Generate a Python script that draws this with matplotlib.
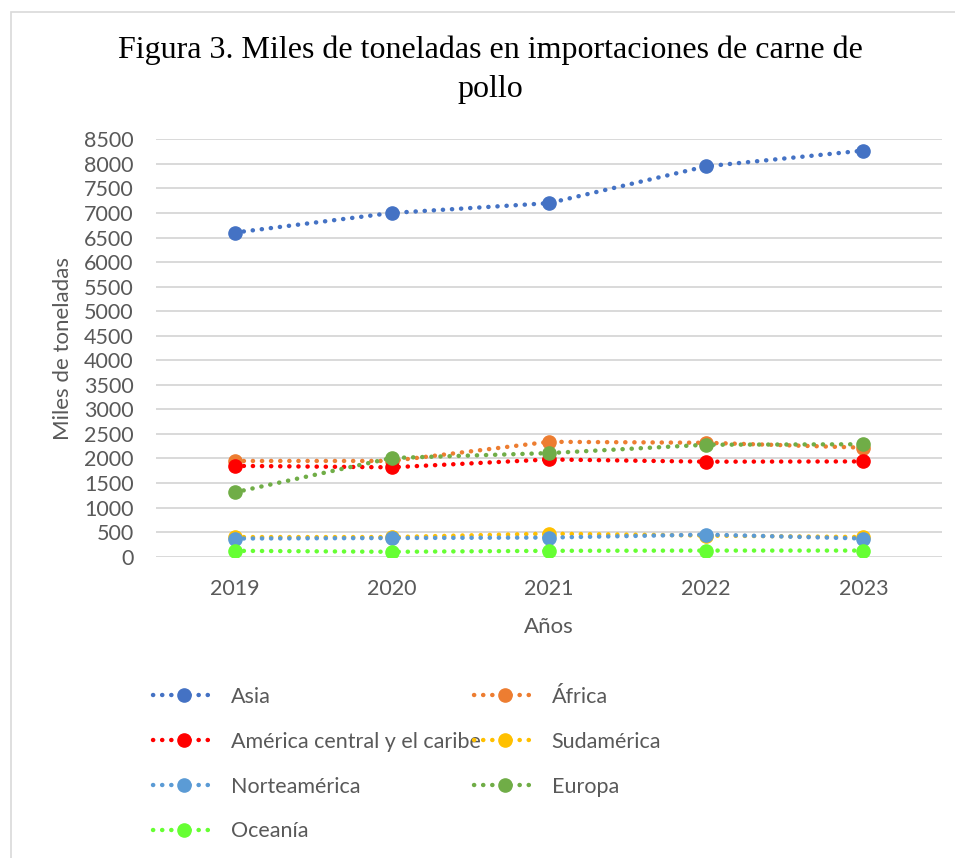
import numpy as np
import matplotlib.pyplot as plt
from matplotlib.patches import Rectangle

# datos (miles de toneladas)
years = ['2019', '2020', '2021', '2022', '2023']
asia = [6600, 7000, 7200, 7950, 8270]
africa = [1950, 1950, 2340, 2320, 2220]
am_central = [1850, 1820, 1980, 1935, 1940]
sudamerica = [400, 400, 470, 430, 400]
norteamerica = [370, 380, 390, 450, 370]
europa = [1310, 2010, 2110, 2280, 2290]
oceania = [120, 100, 120, 125, 125]

series = [
    ('Asia', asia, '#4472C4'),
    ('África', africa, '#ED7D31'),
    ('América central y el caribe', am_central, '#FF0000'),
    ('Sudamérica', sudamerica, '#FFC000'),
    ('Norteamérica', norteamerica, '#5B9BD5'),
    ('Europa', europa, '#70AD47'),
    ('Oceanía', oceania, '#66FF33'),
]

plt.rcParams['font.family'] = ['Lato', 'DejaVu Sans']
gray = '#595959'
fs = 15.5

fig = plt.figure(figsize=(9.55, 8.58), dpi=100)
fig.patches.append(Rectangle((11 / 955, -0.01), 1.0, 1 - 12 / 858 + 0.01,
                             transform=fig.transFigure, fill=False,
                             edgecolor='#D9D9D9', lw=1.2))

ax = fig.add_axes([156 / 955, 1 - 556.7 / 858, (942 - 156) / 955, (556.7 - 139.3) / 858])
x = np.arange(len(years))

handles = {}
for name, vals, col in series:
    h, = ax.plot(x, vals, color=col, lw=3.2, linestyle=(0, (0.05, 2.0)),
                 dash_capstyle='round', marker='o', markersize=9.5,
                 markeredgecolor=col, markerfacecolor=col, label=name, zorder=3)
    handles[name] = h

ax.set_xlim(-0.5, len(years) - 0.5)
ax.set_ylim(0, 8500)
ax.set_yticks(np.arange(0, 8501, 500))
ax.set_xticks(x)
ax.set_xticklabels(years)
ax.grid(axis='y', color='#D9D9D9', lw=1.4)
ax.set_axisbelow(True)
for s in ax.spines.values():
    s.set_visible(False)
ax.tick_params(length=0, labelsize=fs, colors=gray)
ax.tick_params(axis='y', pad=16)
ax.tick_params(axis='x', pad=16)

fig.text(490 / 955, 1 - 70 / 858, 'Figura 3. Miles de toneladas en importaciones de carne de\npollo',
         ha='center', va='center', fontsize=23, family='Liberation Serif',
         linespacing=1.45, color='black')
fig.text(63 / 955, 1 - 348 / 858, 'Miles de toneladas', rotation=90, ha='center',
         va='center', fontsize=fs + 0.5, color=gray)
fig.text(549 / 955, 1 - 627 / 858, 'Años', ha='center', va='center',
         fontsize=fs + 0.5, color=gray)

col1 = ['Asia', 'América central y el caribe', 'Norteamérica', 'Oceanía']
col2 = ['África', 'Sudamérica', 'Europa']
common = dict(frameon=False, fontsize=fs, handlelength=2.9, handletextpad=0.7,
              labelspacing=1.15, borderaxespad=0, borderpad=0, labelcolor=gray)
leg1 = fig.legend([handles[n] for n in col1], col1, loc='upper left',
                  bbox_to_anchor=(153 / 955, 1 - 687 / 858), **common)
leg2 = fig.legend([handles[n] for n in col2], col2, loc='upper left',
                  bbox_to_anchor=(474 / 955, 1 - 687 / 858), **common)

fig.savefig('out.png', dpi=100)
